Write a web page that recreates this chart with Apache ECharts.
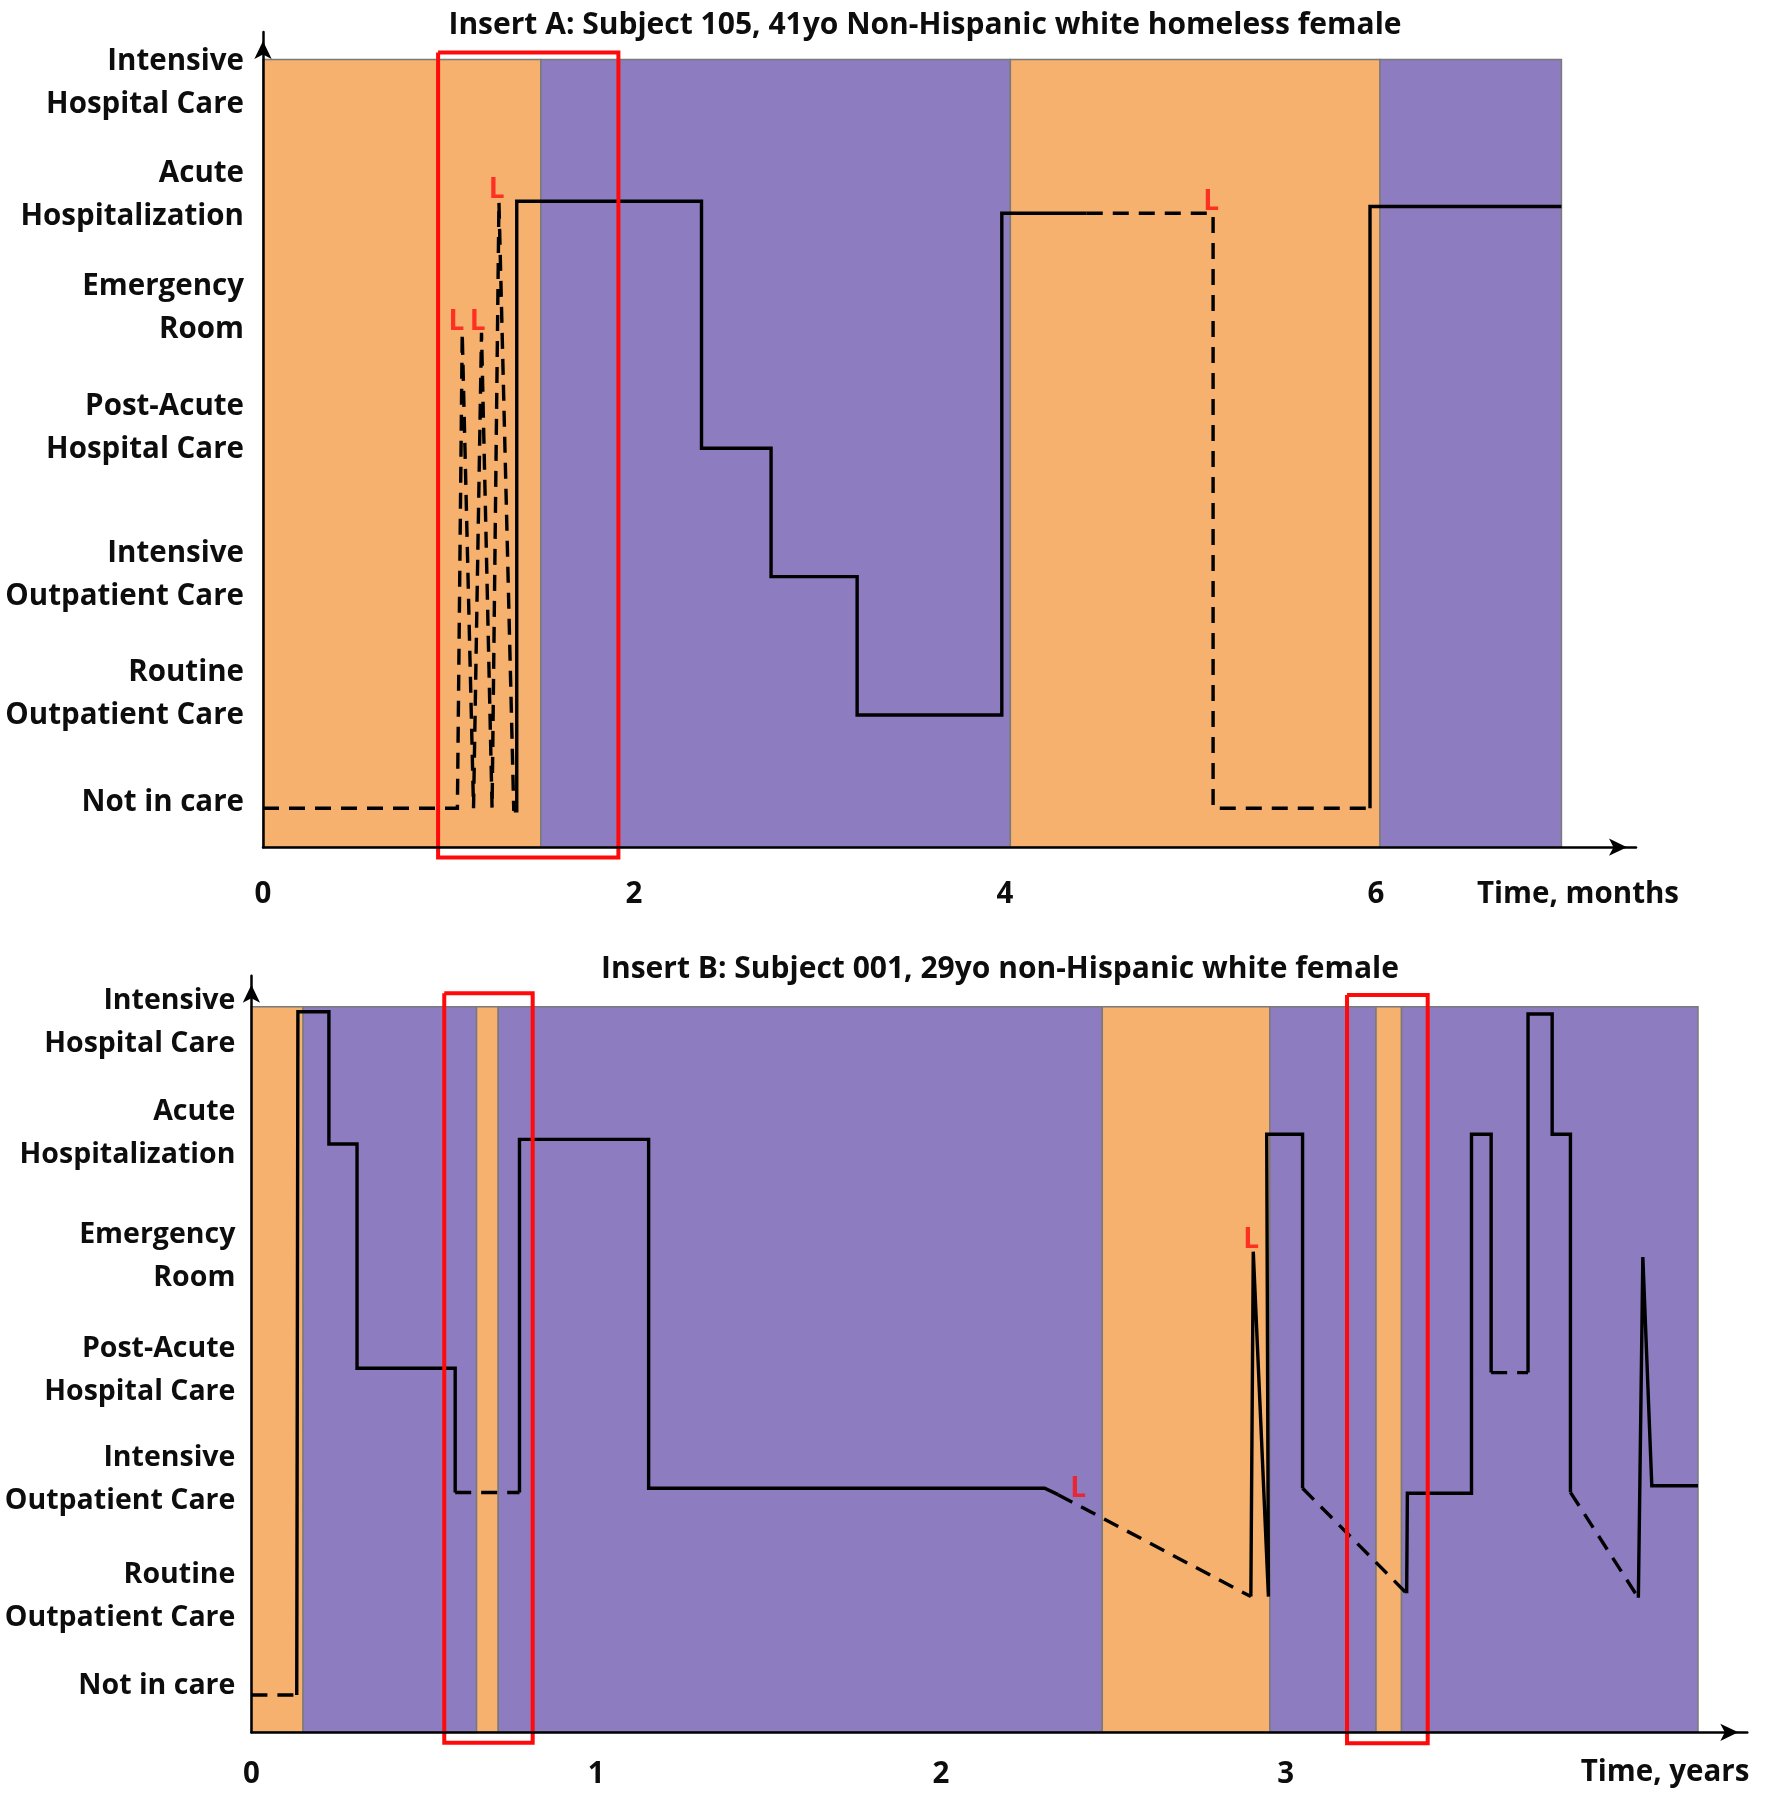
<!DOCTYPE html>
<html><head><meta charset="utf-8">
<script src="https://cdn.jsdelivr.net/npm/echarts@6/dist/echarts.min.js"></script>
<style>html,body{margin:0;padding:0;background:#fff}#c{width:1768px;height:1800px}</style>
</head><body><div id="c"></div>
<script>
// ---------- data ----------
const levelNames = ['Not in care','Routine\nOutpatient Care','Intensive\nOutpatient Care','Post-Acute\nHospital Care','Emergency\nRoom','Acute\nHospitalization','Intensive\nHospital Care'];
const levelTicksA = [-0.02, 0.882, 1.880, 3.109, 4.116, 5.057, 5.99];
const levelTicksB = [0.011, 0.822, 1.870, 2.856, 3.879, 4.984, 5.985];
const timeTicksA = [0, 2, 4, 6];
const timeTicksB = [0, 1, 2, 3];
const titleA = 'Insert A: Subject 105, 41yo Non-Hispanic white homeless female';
const titleB = 'Insert B: Subject 001, 29yo non-Hispanic white female';
const timeNameA = 'Time, months';
const timeNameB = 'Time, years';

// background phases: edges on the time axis, kind 0 / 1
const phaseEdgesA = [0, 1.498, 4.029, 6.022, 7.0];
const phaseKindA = [0, 1, 0, 1];
const phaseEdgesB = [0, 0.150, 0.653, 0.716, 2.468, 2.954, 3.262, 3.336, 4.196];
const phaseKindB = [0, 1, 0, 1, 0, 1, 0, 1];

// care trajectory, subject 105 (months, level)
const solidA = [
  [[1.352,-0.09],[1.368,-0.09],[1.368,5.006],[2.364,5.006],[2.364,2.941],[2.739,2.941],[2.739,1.868],[3.203,1.868],[3.203,0.712],[3.983,0.712],[3.983,4.905],[4.441,4.905]],
  [[5.968,-0.068],[5.968,4.962],[7.0,4.962]]
];
const dashedA = [
  [[0,-0.068],[1.048,-0.068],[1.074,3.906],[1.135,-0.068],[1.178,3.906],[1.235,-0.068],[1.272,5.0],[1.352,-0.09]],
  [[4.441,4.905],[5.122,4.905],[5.122,-0.068],[5.968,-0.068]]
];
const lapsesA = [[1.043,4.0],[1.157,4.0],[1.26,5.10],[5.112,5.0]];
const highlightA = [[0.944,1.916,6.248,-0.480]];

// care trajectory, subject 001 (years, level)
const solidB = [
  [[0.1315,-0.067],[0.1349,6.080],[0.2248,6.080],[0.2248,4.890],[0.3064,4.890],[0.3064,2.872],[0.5911,2.872],[0.5911,1.754]],
  [[0.7776,1.754],[0.7776,4.931],[1.1522,4.931],[1.1522,1.793],[2.301,1.793],[2.340,1.735]],
  [[2.899,0.818],[2.906,3.921],[2.950,0.818],[2.945,4.978],[3.049,4.978],[3.049,1.793]],
  [[3.351,0.847],[3.353,1.747],[3.539,1.747],[3.539,4.978],[3.596,4.978],[3.596,2.833]],
  [[3.703,2.833],[3.703,6.059],[3.773,6.059],[3.773,4.978],[3.826,4.978],[3.826,1.756]],
  [[4.023,0.807],[4.036,3.873],[4.062,1.815],[4.196,1.815]]
];
const dashedB = [
  [[0,-0.067],[0.1315,-0.067]],
  [[0.5911,1.754],[0.7776,1.754]],
  [[2.340,1.735],[2.899,0.818]],
  [[3.049,1.793],[3.351,0.847]],
  [[3.596,2.833],[3.703,2.833]],
  [[3.826,1.756],[4.023,0.807]]
];
const lapsesB = [[2.398,1.787],[2.900,4.028]];
const highlightB = [[0.5594,0.8159,6.245,-0.496],[3.178,3.412,6.231,-0.502]];

// ---------- style / layout ----------
const FONT = '"Open Sans"';
const ORANGE = '#F5B16D', PURPLE = '#8D7CC0', BORDER = '#7a7a7a';
const axisCfg = [
  {xMax: 7.402, yMin: -0.3935, yMax: 6.42, bandTop: 6.19, labelSize: 29.5, grid: {left: 263, right: 132, top: 32, bottom: 952.8}},
  {xMax: 4.339, yMin: -0.403, yMax: 6.403, bandTop: 6.124, labelSize: 28.5, grid: {left: 251.4, right: 20.7, top: 975.8, bottom: 67.7}}
];

function labelFor(ticks){
  return function(v){
    let best=-1, d=1e9;
    ticks.forEach((t,i)=>{ const dd=Math.abs(t-v); if(dd<d){d=dd;best=i;} });
    return d<1e-6 ? levelNames[best] : '';
  };
}

function bandSeries(i, edges, kinds){
  const c = axisCfg[i];
  return {
    type:'custom', xAxisIndex:i, yAxisIndex:i, z:1, silent:true,
    data: kinds.map((k,j)=>[edges[j], edges[j+1], k]),
    encode:{x:[0,1]},
    renderItem:(params, api)=>{
      const a = api.coord([api.value(0), c.bandTop]);
      const b = api.coord([api.value(1), c.yMin]);
      return {type:'rect', shape:{x:a[0], y:a[1], width:b[0]-a[0], height:b[1]-a[1]},
        style:{fill: api.value(2) ? PURPLE : ORANGE, stroke: BORDER, lineWidth:1.5}};
    }
  };
}
function pathSeries(i, pts, dashed){
  return {type:'line', xAxisIndex:i, yAxisIndex:i, data:pts, symbol:'none', z:3, silent:true, clip:false,
    lineStyle:{color:'#000', width:3.4, type: dashed ? [16,10] : 'solid', join:'miter', cap:'butt'}};
}
function rectSeries(i, r){
  const [x0,x1,yT,yB] = r;
  return {type:'line', xAxisIndex:i, yAxisIndex:i, symbol:'none', z:4, silent:true, clip:false,
    data:[[x0,yT],[x1,yT],[x1,yB],[x0,yB],[x0,yT]],
    lineStyle:{color:'#FF0A0A', width:4, join:'miter'}};
}
function lapseSeries(i, pts){
  return {type:'scatter', xAxisIndex:i, yAxisIndex:i, data:pts, symbolSize:1, z:5, silent:true,
    itemStyle:{color:'rgba(0,0,0,0)'},
    label:{show:true, formatter:'L', position:'inside', color:'#FF1010', fontSize:28, fontWeight:'bold', fontFamily:FONT}};
}
const TXT = {fontSize:29.5, fontWeight:'bold', color:'#0d0d0d', fontFamily:FONT};
const TTL = {fontSize:30, fontWeight:'bold', color:'#0d0d0d', fontFamily:FONT};
function xAxisDef(i, ticks, name, nameGap, namePad, labelMargin){
  return {gridIndex:i, type:'value', min:0, max:axisCfg[i].xMax, z:10,
    axisLine:{show:true, onZero:false, symbol:['none','arrow'], symbolSize:[13,18], symbolOffset:[0,-9], lineStyle:{color:'#000', width:2.5}},
    axisTick:{show:false}, splitLine:{show:false},
    axisLabel:Object.assign({customValues:ticks, margin:labelMargin}, TXT),
    name:name, nameLocation:'end', nameGap:nameGap,
    nameTextStyle:Object.assign({align:'right', verticalAlign:'top', padding:[namePad,0,0,0]}, TXT)};
}
function yAxisDef(i, ticks, margin){
  return {gridIndex:i, type:'value', min:axisCfg[i].yMin, max:axisCfg[i].yMax, z:10,
    axisLine:{show:true, onZero:false, symbol:['none','arrow'], symbolSize:[13,18], symbolOffset:[0,-9], lineStyle:{color:'#000', width:2.5}},
    axisTick:{show:false}, splitLine:{show:false},
    axisLabel:Object.assign({}, TXT, {customValues:ticks, formatter:labelFor(ticks), margin:margin, align:'right', lineHeight:43, fontSize:axisCfg[i].labelSize})};
}

const series = [
  bandSeries(0, phaseEdgesA, phaseKindA),
  bandSeries(1, phaseEdgesB, phaseKindB),
  ...solidA.map(p=>pathSeries(0,p,false)),
  ...dashedA.map(p=>pathSeries(0,p,true)),
  ...solidB.map(p=>pathSeries(1,p,false)),
  ...dashedB.map(p=>pathSeries(1,p,true)),
  ...highlightA.map(r=>rectSeries(0,r)),
  ...highlightB.map(r=>rectSeries(1,r)),
  lapseSeries(0, lapsesA),
  lapseSeries(1, lapsesB)
];

const chart = echarts.init(document.getElementById('c'), null, {renderer:'canvas'});
chart.setOption({
  animation:false,
  backgroundColor:'#fff',
  title:[
    {text:titleA, left:925, top:10, textAlign:'center', padding:0, textStyle:TTL},
    {text:titleB, left:1000, top:954, textAlign:'center', padding:0, textStyle:TTL}
  ],
  grid:[
    Object.assign({outerBoundsMode:'none', containLabel:false}, axisCfg[0].grid),
    Object.assign({outerBoundsMode:'none', containLabel:false}, axisCfg[1].grid)
  ],
  xAxis:[ xAxisDef(0, timeTicksA, timeNameA, 43, 32, 32), xAxisDef(1, timeTicksB, timeNameB, 2, 25, 27) ],
  yAxis:[ yAxisDef(0, levelTicksA, 19), yAxisDef(1, levelTicksB, 16) ],
  series: series
});
</script></body></html>
